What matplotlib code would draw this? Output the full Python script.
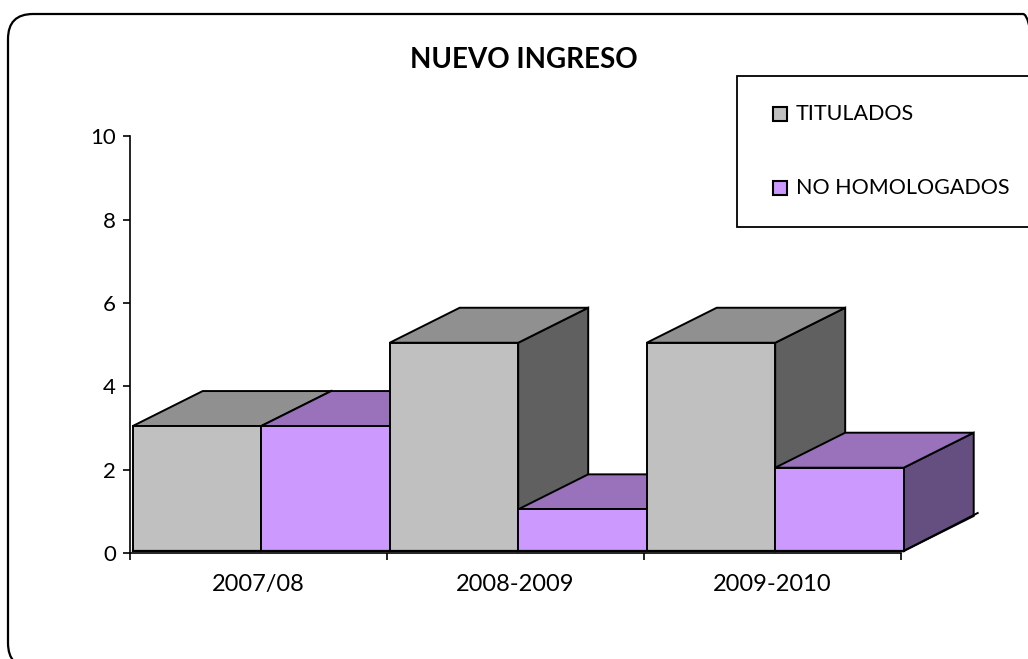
import matplotlib
matplotlib.use('Agg')
import matplotlib.pyplot as plt
from matplotlib.patches import FancyBboxPatch, Polygon, Rectangle
from matplotlib.transforms import IdentityTransform

plt.rcParams['font.family'] = ['Lato', 'DejaVu Sans']

years = ['2007/08', '2008-2009', '2009-2010']
titulados = [3, 5, 5]
no_homologados = [3, 1, 2]
yticks = [0, 2, 4, 6, 8, 10]

W, H = 1028, 659
fig = plt.figure(figsize=(W / 100, H / 100), dpi=100)
fig.patch.set_facecolor('white')

# plot area in pixels of the picture
left, right, top, bottom = 130, 901, 136.5, 553
ax = fig.add_axes([left / W, 1 - bottom / H, (right - left) / W, (bottom - top) / H])
ax.set_xlim(0, 3)
ax.set_ylim(0, 10)
ax.patch.set_alpha(0)

# fake 3d: depth and the small shift of the floor, in data units
px_x = 3 / (right - left)
px_y = 10 / (bottom - top)
dx = 70 * px_x
dy = 35 * px_y
ox = 2.7 * px_x
oy = 2 * px_y
bar_w = 0.5


def box(x, v, front, roof, side):
    x0 = x + ox
    x1 = x0 + bar_w
    y0 = oy
    y1 = oy + v
    kw = dict(edgecolor='black', linewidth=1.4, joinstyle='miter', clip_on=False)
    ax.add_patch(Polygon([(x1, y0), (x1 + dx, y0 + dy), (x1 + dx, y1 + dy), (x1, y1)], facecolor=side, **kw))
    ax.add_patch(Polygon([(x0, y1), (x1, y1), (x1 + dx, y1 + dy), (x0 + dx, y1 + dy)], facecolor=roof, **kw))
    ax.add_patch(Polygon([(x0, y0), (x1, y0), (x1, y1), (x0, y1)], facecolor=front, **kw))


for i in range(len(years)):
    box(i, titulados[i], '#C0C0C0', '#909090', '#606060')
    box(i + bar_w, no_homologados[i], '#CC99FF', '#9A72BC', '#654F80')

# floor edge on the right and along the front
ax.plot([3 + ox, 3 + ox + 74 * px_x], [oy, oy + 38 * px_y], color='black', lw=1.4, clip_on=False)
ax.plot([ox, 3 + ox], [oy, oy], color='black', lw=1.6, clip_on=False)

for s in ['top', 'right']:
    ax.spines[s].set_visible(False)
for s in ['left', 'bottom']:
    ax.spines[s].set_linewidth(1.2)
ax.set_yticks(yticks)
ax.set_xticks([0, 1, 2, 3])
ax.set_xticklabels([])
ax.tick_params(length=5, width=1.2, labelsize=16, pad=5)
for i, name in enumerate(years):
    ax.annotate(name, (i + 0.5, 0), xytext=(0, -21), textcoords='offset pixels', ha='center', va='top', fontsize=17)

fig.text(524 / W, 1 - 60 / H, 'NUEVO INGRESO', ha='center', va='center', fontsize=20, fontweight='bold')

# legend
px = IdentityTransform()
fig.add_artist(Rectangle((737, H - 227), 300, 151, transform=px, facecolor='white', edgecolor='black', lw=1.3))
for y, name, c in [(114, 'TITULADOS', '#C0C0C0'), (188, 'NO HOMOLOGADOS', '#CC99FF')]:
    fig.add_artist(Rectangle((773, H - y - 7), 14, 14, transform=px, facecolor=c, edgecolor='black', lw=1.5))
    fig.text(796 / W, 1 - y / H, name, ha='left', va='center', fontsize=15.5)

# rounded outer frame, runs off the picture on the right and at the bottom
fig.add_artist(FancyBboxPatch((8, H - 668), 1040, 654, boxstyle='round,pad=0,rounding_size=25',
                              transform=px, facecolor='none', edgecolor='black', lw=1.6))

fig.savefig('out.png', dpi=100)
